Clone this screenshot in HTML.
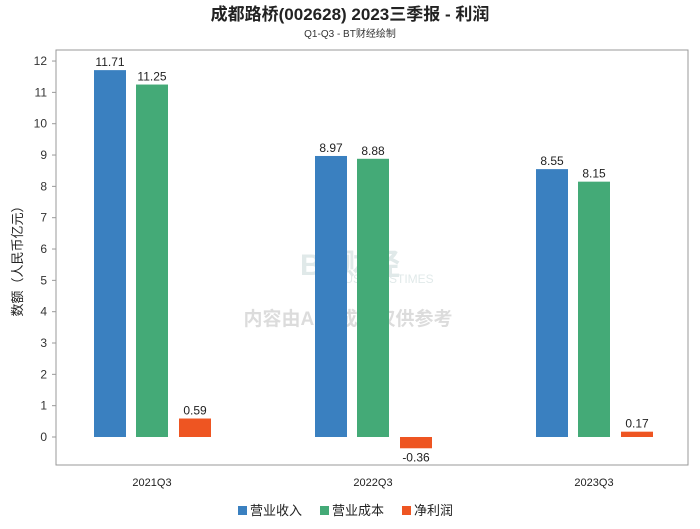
<!DOCTYPE html>
<html><head><meta charset="utf-8">
<style>
body{margin:0;background:#fff;font-family:"Liberation Sans","Noto Sans CJK SC",sans-serif;}
svg text{font-family:"Liberation Sans","Noto Sans CJK SC",sans-serif;}
</style></head>
<body>
<svg id="chart" width="700" height="524" xmlns="http://www.w3.org/2000/svg">
<text x="350" y="20" text-anchor="middle" font-size="17" font-weight="bold" fill="#222">成都路桥(002628) 2023三季报 - 利润</text>
<text x="350" y="37" text-anchor="middle" font-size="10" fill="#333">Q1-Q3 - BT财经绘制</text>
<rect x="56" y="50" width="632" height="415" fill="none" stroke="#999"/>
<g id="grid"></g>
<g opacity="0.25">
<text x="350" y="275" text-anchor="middle" font-size="30" font-family="Liberation Serif,serif" font-weight="bold" fill="#8aa">BT财经</text>
<text x="385" y="283" text-anchor="middle" font-size="12" fill="#8aa">BUSINESSTIMES</text>
<text x="348" y="325" text-anchor="middle" font-size="19" font-weight="bold" fill="#777">内容由AI生成，仅供参考</text>
</g>
<g id="bars"></g>
<text transform="translate(22,258) rotate(-90)" text-anchor="middle" font-size="13" fill="#222">数额（人民币亿元）</text>
<g font-size="13" fill="#222">
<rect x="238" y="506" width="9" height="9" fill="#3a80c0"/><text x="250" y="515">营业收入</text>
<rect x="320" y="506" width="9" height="9" fill="#44aa77"/><text x="332" y="515">营业成本</text>
<rect x="402" y="506" width="9" height="9" fill="#ee5522"/><text x="414" y="515">净利润</text>
</g>
</svg>
<script>
const categories=["2021Q3","2022Q3","2023Q3"];
const revenue=[11.71,8.97,8.55];
const cost=[11.25,8.88,8.15];
const profit=[0.59,-0.36,0.17];
const yTicks=[0,1,2,3,4,5,6,7,8,9,10,11,12];
const NS="http://www.w3.org/2000/svg";
const y=v=>437-v*31.33;
const xc=i=>152+i*221;
const grid=document.getElementById('grid'),bars=document.getElementById('bars');
function mk(tag,at,parent){const e=document.createElementNS(NS,tag);for(const k in at)e.setAttribute(k,at[k]);parent.appendChild(e);return e;}
yTicks.forEach(t=>{
 const l=mk('line',{x1:52,x2:56,y1:y(t),y2:y(t),stroke:'#999'},grid);
 
 
 const tx=mk('text',{x:47,y:y(t)+4,'text-anchor':'end','font-size':12,fill:'#333'},grid);
 tx.textContent=t;
 
 
});
const series=[[revenue,'#3a80c0',-42,'revenue'],[cost,'#44aa77',0,'cost'],[profit,'#ee5522',43,'profit']];
categories.forEach((c,i)=>{
 const tx=mk('text',{x:xc(i),y:486,'text-anchor':'middle','font-size':11,fill:'#222'},bars);
 tx.textContent=c;
 
 
 series.forEach(([arr,col,off,nm])=>{
  const v=arr[i],cx=xc(i)+off,top=Math.min(y(v),y(0)),h=Math.abs(y(v)-y(0));
  const r=mk('rect',{x:cx-16,y:top,width:32,height:h,fill:col},bars);
  
  
  const lb=mk('text',{x:cx,y:v>=0?y(v)-4:y(v)+13,'text-anchor':'middle','font-size':12,fill:'#222'},bars);
  lb.textContent=v.toFixed(2);
  
  
 });
});
</script>
</body></html>
